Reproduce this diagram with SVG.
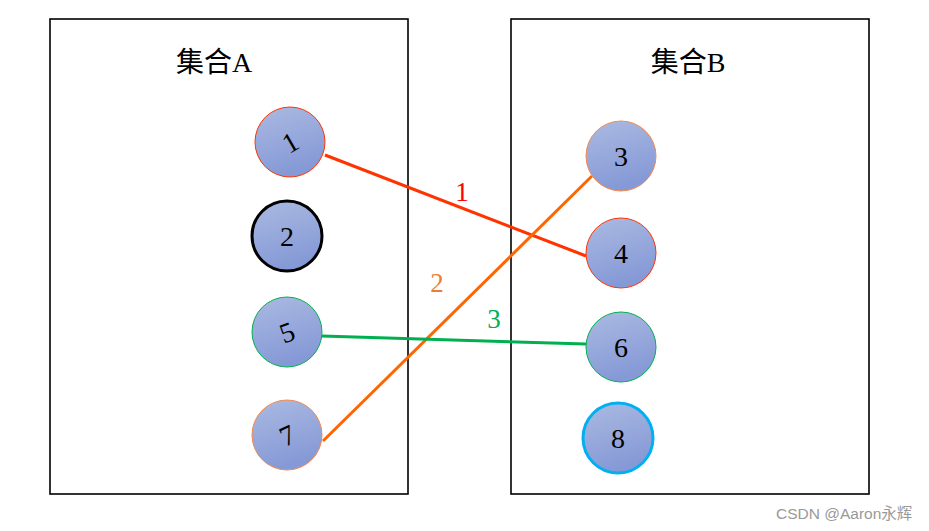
<svg xmlns="http://www.w3.org/2000/svg" width="929" height="531" viewBox="0 0 929 531">
<style>
.box{fill:#fff;stroke:#000;stroke-width:1.6}
.n{fill:url(#g)}
.t{font-family:"Liberation Serif","Noto Sans CJK SC",serif;font-size:28px;fill:#000;text-anchor:middle}
.title{font-family:"Liberation Serif","Noto Sans CJK SC",serif;font-size:28px;fill:#000;text-anchor:middle}
.lbl{font-family:"Liberation Serif",serif;font-size:27px;text-anchor:middle}
.c{fill:none;stroke-width:3}
</style>
<defs>
<linearGradient id="g" x1="0" y1="0" x2="0.3" y2="1">
<stop offset="0" stop-color="#abbae2"/>
<stop offset="1" stop-color="#8599d6"/>
</linearGradient>
</defs>
<rect width="929" height="531" fill="#fff"/>
<g id="setA"><rect class="box" x="50" y="19" width="358" height="475"/><text class="title" x="214" y="72">集合A</text></g>
<g id="setB"><rect class="box" x="511" y="19" width="358" height="475"/><text class="title" x="688" y="72">集合B</text></g>
<g id="connectors">
<line class="c" x1="325" y1="155" x2="586" y2="256" stroke="#ff3300"/>
<line class="c" x1="323" y1="441" x2="592" y2="176" stroke="#ff6600"/>
<line class="c" x1="322" y1="336" x2="586" y2="344" stroke="#00b050"/>
<text class="lbl" x="462" y="201" fill="#ff0000">1</text>
<text class="lbl" x="437" y="292" fill="#ed7d31">2</text>
<text class="lbl" x="494" y="328" fill="#00b050">3</text>
</g>
<g id="n1"><circle class="n" cx="290" cy="142" r="35" stroke="#ff3300" stroke-width="1"/><text class="t" transform="translate(290,142) rotate(-30)" y="10">1</text></g>
<g id="n2"><circle class="n" cx="287" cy="236" r="35" stroke="#000" stroke-width="3"/><text class="t" x="287" y="246">2</text></g>
<g id="n5"><circle class="n" cx="287" cy="332" r="35" stroke="#00b050" stroke-width="1"/><text class="t" transform="translate(287,332) rotate(-20)" y="10">5</text></g>
<g id="n7"><circle class="n" cx="287" cy="435" r="35" stroke="#f4894b" stroke-width="1"/><text class="t" transform="translate(287,435) rotate(-25)" y="10">7</text></g>
<g id="n3"><circle class="n" cx="621" cy="156" r="35" stroke="#f4894b" stroke-width="1"/><text class="t" x="621" y="166">3</text></g>
<g id="n4"><circle class="n" cx="621" cy="253" r="35" stroke="#ff3300" stroke-width="1"/><text class="t" x="621" y="263">4</text></g>
<g id="n6"><circle class="n" cx="621" cy="347" r="35" stroke="#00b050" stroke-width="1"/><text class="t" x="621" y="357">6</text></g>
<g id="n8"><circle class="n" cx="618" cy="438" r="35" stroke="#00b0f0" stroke-width="3"/><text class="t" x="618" y="448">8</text></g>
<text x="776" y="519" font-family="Liberation Sans,'Noto Sans CJK SC',sans-serif" font-size="15.5" fill="#999">CSDN @Aaron永辉</text>
</svg>
